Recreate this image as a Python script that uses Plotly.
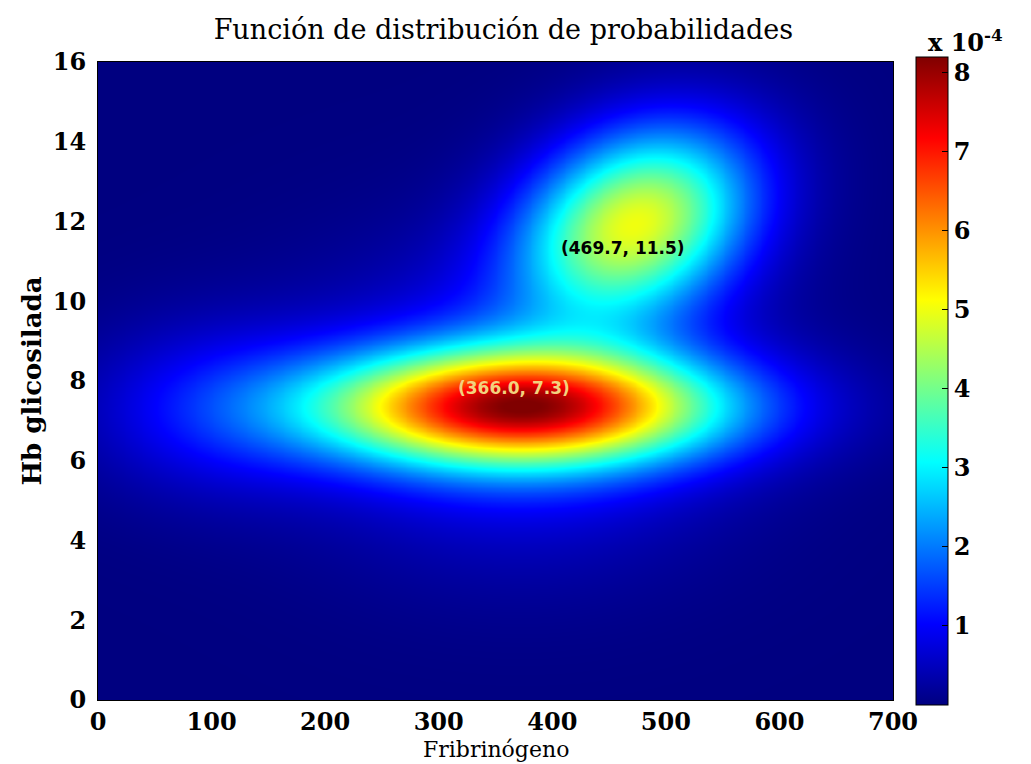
import numpy as np
import plotly.graph_objects as go

# --- values -----------------------------------------------------------------
# Gaussian components of the plotted density (amplitudes in units of 1e-4)
comp_amp = [6.8, 1.4, 4.85, 0.95]            # peak heights (x 1e-4)
comp_mx = [372.0, 372.0, 474.0, 105.0]       # Fribrinógeno centre
comp_my = [7.35, 7.35, 12.0, 7.3]            # Hb glicosilada centre
comp_sx = [123.0, 123.0, 70.0, 80.0]         # spread along x
comp_sy = [1.0, 2.4, 1.65, 1.5]              # spread along y
comp_rho = [0.0, 0.0, 0.25, 0.0]             # correlation

x_ticks = [0, 100, 200, 300, 400, 500, 600, 700]
y_ticks = [0, 2, 4, 6, 8, 10, 12, 14, 16]
cbar_ticks = [1, 2, 3, 4, 5, 6, 7, 8]

label_text = ["(469.7, 11.5)", "(366.0, 7.3)"]
label_x = [462.0, 366.3]
label_y = [11.34, 7.82]
label_color = ["#000000", "#F2D27E"]

# --- evaluate the density on a grid -----------------------------------------
xs = np.linspace(0, 700, 281)
ys = np.linspace(0, 16, 257)
X, Y = np.meshgrid(xs, ys)
Z = np.zeros_like(X)
for a, mx, my, sx, sy, r in zip(comp_amp, comp_mx, comp_my, comp_sx, comp_sy, comp_rho):
    u = (X - mx) / sx
    v = (Y - my) / sy
    q = (u * u - 2 * r * u * v + v * v) / (1 - r * r)
    Z += a * np.exp(-0.5 * q)
Z = Z * 1e-4

jet = [
    [0.0, "rgb(0,0,128)"],
    [0.125, "rgb(0,0,255)"],
    [0.375, "rgb(0,255,255)"],
    [0.625, "rgb(255,255,0)"],
    [0.875, "rgb(255,0,0)"],
    [1.0, "rgb(128,0,0)"],
]

serif = "DejaVu Serif"

fig = go.Figure(
    go.Heatmap(
        x=xs,
        y=ys,
        z=Z,
        colorscale=jet,
        zmin=0,
        zmax=8.2e-4,
        zsmooth="best",
        hoverinfo="skip",
        colorbar=dict(
            tickvals=[t * 1e-4 for t in cbar_ticks],
            ticktext=[str(t) for t in cbar_ticks],
            tickfont=dict(family=serif, size=24, color="black", weight="bold"),
            ticks="inside",
            ticklen=6,
            tickcolor="black",
            thickness=32,
            lenmode="pixels",
            len=648,
            y=0.5,
            yanchor="middle",
            x=1.029,
            xanchor="left",
            xpad=0,
            ypad=0,
            outlinecolor="black",
            outlinewidth=1,
        ),
    )
)

annotations = []
for t, ax_, ay_, c in zip(label_text, label_x, label_y, label_color):
    annotations.append(
        dict(
            x=ax_, y=ay_, xref="x", yref="y", text=t, showarrow=False,
            font=dict(family="DejaVu Sans", size=17, color=c, weight="bold"),
        )
    )
annotations.append(
    dict(
        x=1.041, y=1.0, xref="paper", yref="paper", xanchor="left", yanchor="bottom",
        yshift=3, text="x 10<sup>-4</sup>", showarrow=False,
        font=dict(family=serif, size=24, color="black", weight="bold"),
    )
)
# x-axis title, placed so it stays inside the page
annotations.append(
    dict(
        x=0.5, y=-0.0995, xref="paper", yref="paper", xanchor="center", yanchor="bottom",
        text="Fribrinógeno", showarrow=False, borderpad=0,
        font=dict(family=serif, size=22, color="black"),
    )
)

# the page body adds an 8 px offset, so margins are set 8 px smaller on top/left
fig.update_layout(
    width=1031,
    height=764,
    margin=dict(l=90, r=146, t=54, b=72, autoexpand=False),
    paper_bgcolor="white",
    plot_bgcolor="white",
    title=dict(
        text="Función de distribución de probabilidades",
        x=0.4805, xanchor="center", y=0.972, yanchor="middle",
        font=dict(family=serif, size=27, color="black"),
    ),
    xaxis=dict(
        range=[0, 700],
        automargin=False,
        tickvals=x_ticks,
        ticktext=[str(v) for v in x_ticks],
        tickfont=dict(family=serif, size=24, color="black", weight="bold"),
        showline=True, linecolor="black", linewidth=1, mirror=True,
        showgrid=False, zeroline=False, ticks="",
        ticklabelstandoff=0,
    ),
    yaxis=dict(
        range=[0, 16],
        automargin=False,
        tickvals=y_ticks,
        ticktext=[str(v) for v in y_ticks],
        tickfont=dict(family=serif, size=24, color="black", weight="bold"),
        showline=True, linecolor="black", linewidth=1, mirror=True,
        showgrid=False, zeroline=False, ticks="",
        ticklabelstandoff=6,
        title=dict(text="Hb glicosilada", standoff=3,
                   font=dict(family=serif, size=26, color="black", weight="bold")),
    ),
    annotations=annotations,
)

fig.write_html("out.html")
